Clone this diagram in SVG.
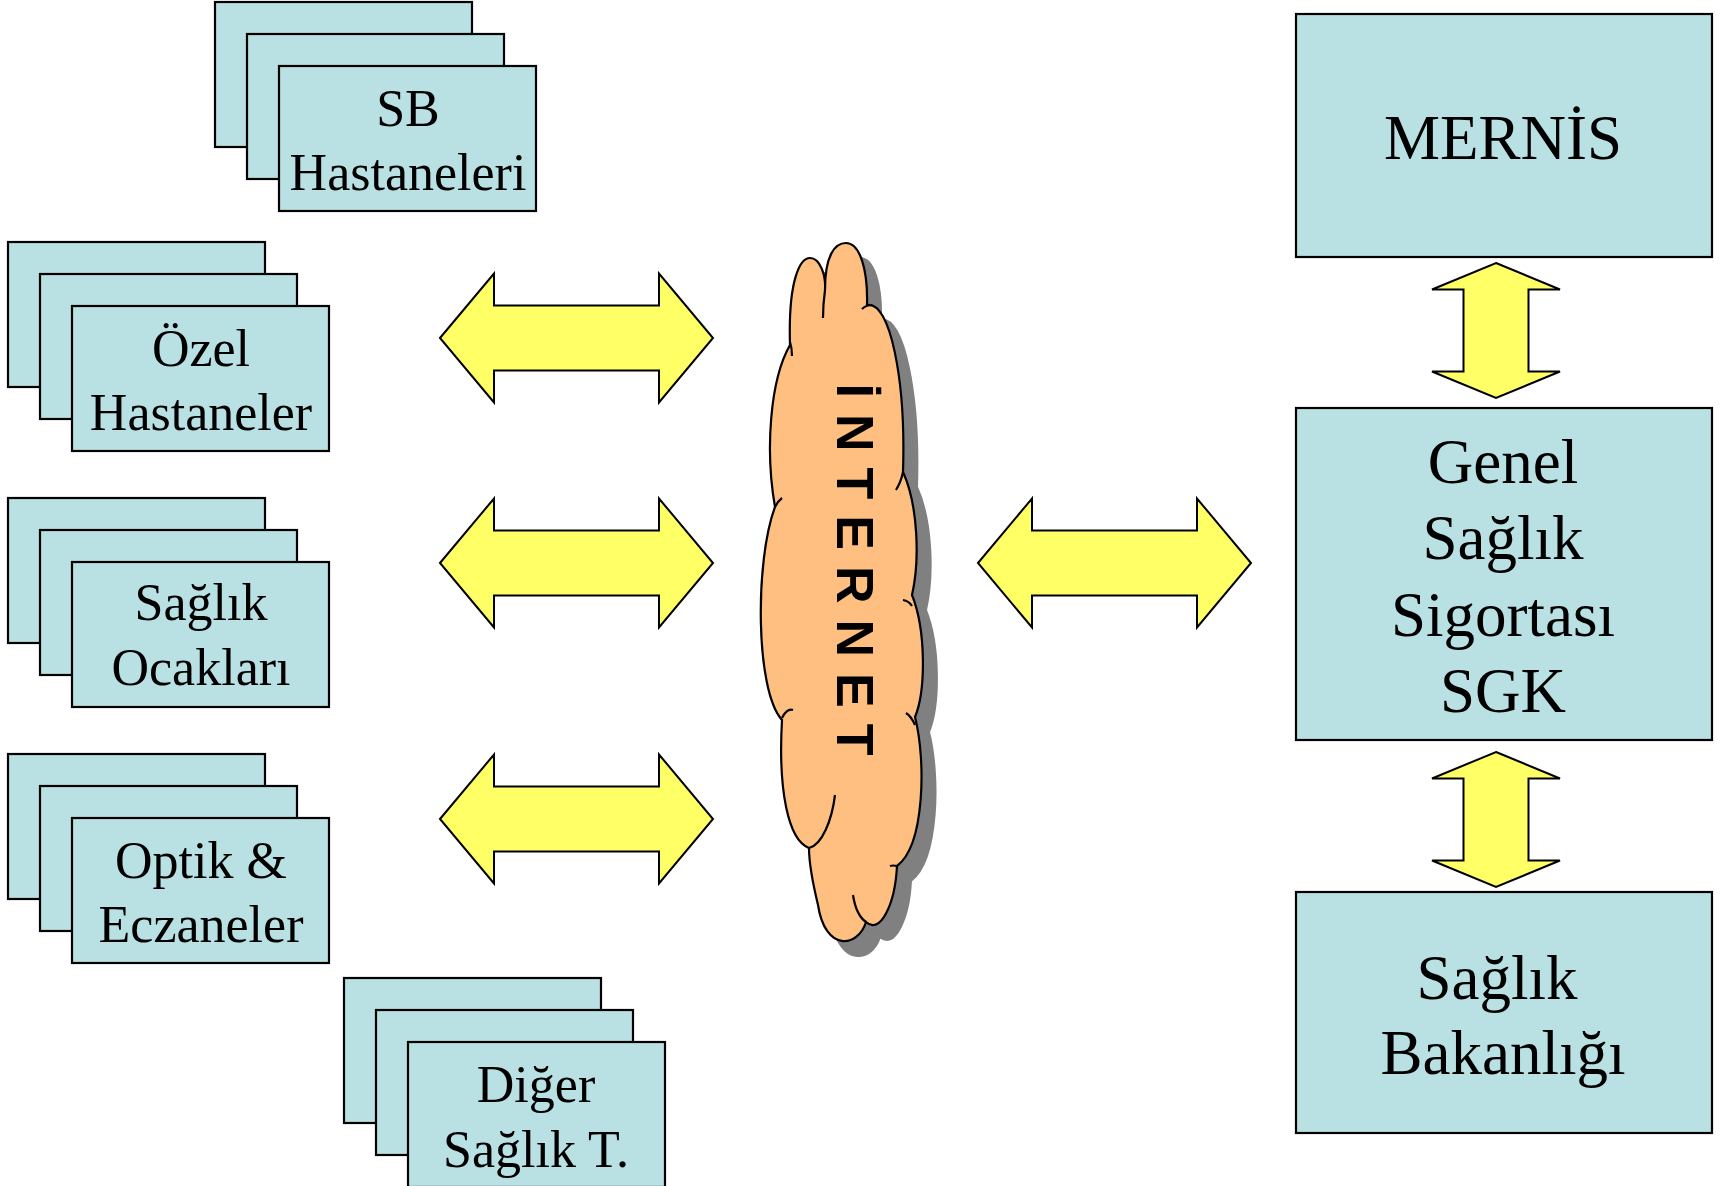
<svg xmlns="http://www.w3.org/2000/svg" width="1727" height="1186" viewBox="0 0 1727 1186">
<style>
.box{fill:#B9E0E3;stroke:#000;stroke-width:2.2}
.lbl{font-family:"Liberation Serif","Times New Roman",serif;font-size:52px;text-anchor:middle;fill:#000}
.big{font-family:"Liberation Serif","Times New Roman",serif;font-size:63px;text-anchor:middle;fill:#000}
.arr{fill:#FFFF66;stroke:#000;stroke-width:2;stroke-linejoin:miter}
.cloud{fill:#FFBF80;stroke:#000;stroke-width:2.2}
.hook{fill:none;stroke:#000;stroke-width:2.2}
.net{font-family:"Liberation Sans",Arial,sans-serif;font-weight:bold;font-size:52px;letter-spacing:16px;fill:#000}
</style>
<defs>
<path id="harr" class="arr" d="M0,0 L54,-64.5 L54,-32.5 L219,-32.5 L219,-64.5 L273,0 L219,64.5 L219,32.5 L54,32.5 L54,64.5 Z"/>
<path id="varr" class="arr" d="M0,0 L64,26.5 L32.5,26.5 L32.5,108.5 L64,108.5 L0,135 L-64,108.5 L-32.5,108.5 L-32.5,26.5 L-64,26.5 Z"/>
<path id="cloudpath" d="M790,345 C788,280 800,258 810,258 C820,258 826,275 825,290 C825,255 835,243 846,243 C860,243 868,270 867,305 C890,300 906,380 903,472 C918,505 920,560 912,595 C926,630 926,690 915,717 C926,760 925,845 897,866 C895,905 880,935 866,922 C858,948 825,952 818,905 C812,880 809,860 809,848 C788,840 778,790 782,720 C755,690 755,560 775,507 C765,450 770,380 790,345 Z"/>
</defs>

<g id="connectors">
<use href="#harr" x="440" y="338"/>
<use href="#harr" x="440" y="563"/>
<use href="#harr" x="440" y="819"/>
<use href="#harr" x="978" y="563"/>
<use href="#varr" x="1496" y="263"/>
<use href="#varr" x="1496" y="752"/>
</g>

<g id="sb-hastaneleri">
<rect class="box" x="215" y="2" width="257" height="145"/>
<rect class="box" x="247" y="34" width="257" height="145"/>
<rect class="box" x="279" y="66" width="257" height="145"/>
<text class="lbl" x="408" y="126">SB</text>
<text class="lbl" x="408" y="190">Hastaneleri</text>
</g>

<g id="ozel-hastaneler">
<rect class="box" x="8" y="242" width="257" height="145"/>
<rect class="box" x="40" y="274" width="257" height="145"/>
<rect class="box" x="72" y="306" width="257" height="145"/>
<text class="lbl" x="201" y="366">Özel</text>
<text class="lbl" x="201" y="430">Hastaneler</text>
</g>

<g id="saglik-ocaklari">
<rect class="box" x="8" y="498" width="257" height="145"/>
<rect class="box" x="40" y="530" width="257" height="145"/>
<rect class="box" x="72" y="562" width="257" height="145"/>
<text class="lbl" x="201" y="620">Sağlık</text>
<text class="lbl" x="201" y="685">Ocakları</text>
</g>

<g id="optik-eczaneler">
<rect class="box" x="8" y="754" width="257" height="145"/>
<rect class="box" x="40" y="786" width="257" height="145"/>
<rect class="box" x="72" y="818" width="257" height="145"/>
<text class="lbl" x="201" y="878">Optik &amp;</text>
<text class="lbl" x="201" y="942">Eczaneler</text>
</g>

<g id="diger-saglik">
<rect class="box" x="344" y="978" width="257" height="145"/>
<rect class="box" x="376" y="1010" width="257" height="145"/>
<rect class="box" x="408" y="1042" width="257" height="145"/>
<text class="lbl" x="536" y="1102">Diğer</text>
<text class="lbl" x="536" y="1167">Sağlık T.</text>
</g>

<g id="internet">
<use href="#cloudpath" transform="translate(14,15)" fill="#808080" stroke="#808080" stroke-width="2"/>
<use href="#cloudpath" class="cloud"/>
<path class="hook" d="M790,342 Q792,348 792,356"/>
<path class="hook" d="M825,290 Q823,305 823,318"/>
<path class="hook" d="M872,305 Q866,305 862,309"/>
<path class="hook" d="M903,472 Q901,482 896,490"/>
<path class="hook" d="M775,507 Q778,501 782,498"/>
<path class="hook" d="M903,600 Q909,601 912,606"/>
<path class="hook" d="M906,713 Q911,716 915,725"/>
<path class="hook" d="M782,718 Q787,708 793,710"/>
<path class="hook" d="M809,848 C822,845 832,820 835,795"/>
<path class="hook" d="M853,895 Q856,915 866,922"/>
<path class="hook" d="M897,866 Q893,865 890,866"/>
<text class="net" transform="translate(837,383.5) rotate(90)">İNTERNET</text>
</g>

<g id="mernis">
<rect class="box" x="1296" y="14" width="416" height="243"/>
<text class="big" x="1503" y="159">MERNİS</text>
</g>

<g id="sgk">
<rect class="box" x="1296" y="408" width="416" height="332"/>
<text class="big" x="1503" y="483">Genel</text>
<text class="big" x="1503" y="559">Sağlık</text>
<text class="big" x="1503" y="636">Sigortası</text>
<text class="big" x="1503" y="712">SGK</text>
</g>

<g id="saglik-bakanligi">
<rect class="box" x="1296" y="892" width="416" height="241"/>
<text class="big" x="1497" y="999">Sağlık</text>
<text class="big" x="1503" y="1074">Bakanlığı</text>
</g>
</svg>
